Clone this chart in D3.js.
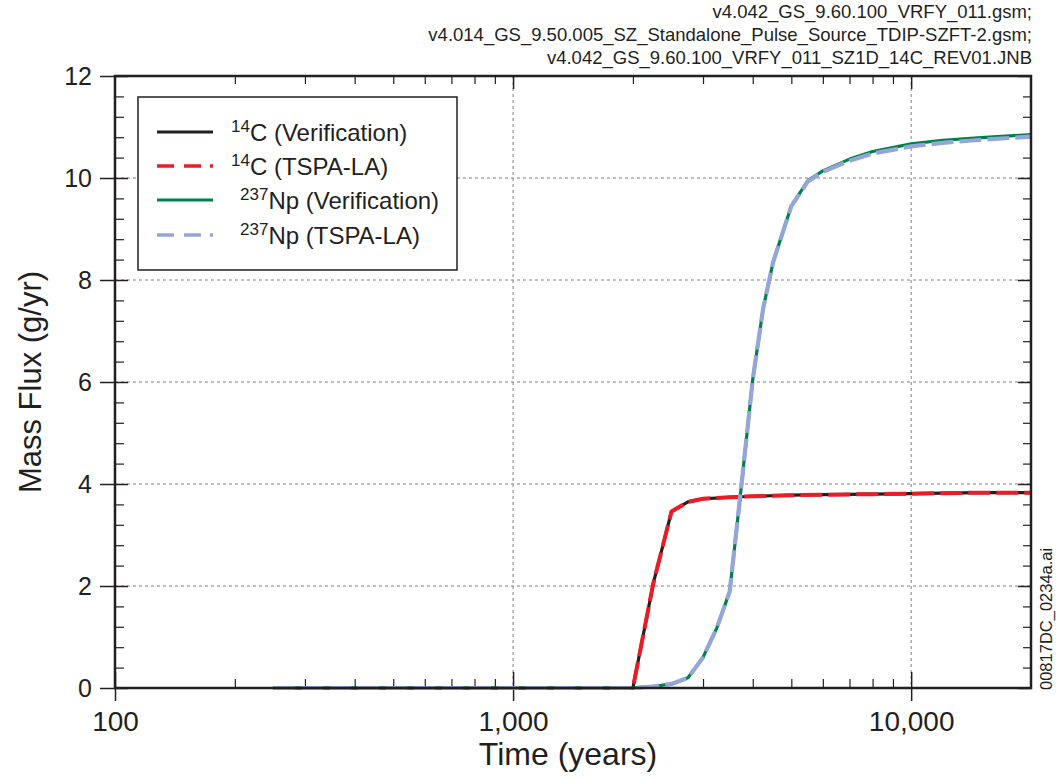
<!DOCTYPE html>
<html><head><meta charset="utf-8">
<script src="https://cdn.jsdelivr.net/npm/d3@7"></script>
<style>
body{margin:0;background:#fff;}
text{font-family:"Liberation Sans",Arial,Helvetica,sans-serif;fill:#231f20;}
</style></head>
<body>
<svg id="chart" width="1058" height="780"></svg>
<script>
// ---- data ----
const c14Time = [250, 2000, 2250, 2500, 2750, 3000, 3500, 4000, 5000, 6000, 8000, 10000, 12000, 15000, 20000];
const c14Verification = [0, 0, 2.05, 3.46, 3.65, 3.71, 3.74, 3.76, 3.78, 3.79, 3.80, 3.81, 3.82, 3.83, 3.83];
const c14TSPA = [0, 0, 2.05, 3.46, 3.65, 3.71, 3.74, 3.76, 3.78, 3.79, 3.80, 3.81, 3.82, 3.83, 3.83];
const npTime = [250, 2000, 2250, 2500, 2750, 3000, 3250, 3500, 3750, 4000, 4250, 4500, 5000, 5500, 6000, 7000, 8000, 10000, 12000, 15000, 20000];
const npVerification = [0, 0, 0.03, 0.08, 0.2, 0.6, 1.18, 1.89, 4.0, 6.05, 7.45, 8.35, 9.45, 9.95, 10.14, 10.37, 10.52, 10.67, 10.74, 10.79, 10.85];
const npTSPA = [0, 0, 0.03, 0.08, 0.2, 0.6, 1.18, 1.89, 4.0, 6.05, 7.45, 8.35, 9.45, 9.93, 10.12, 10.34, 10.48, 10.62, 10.69, 10.75, 10.81];
const xMajorTicks = [100, 1000, 10000];
const xMinorTicks = [200, 300, 400, 500, 600, 700, 800, 900, 2000, 3000, 4000, 5000, 6000, 7000, 8000, 9000];
const yMajorTicks = [0, 2, 4, 6, 8, 10, 12];
const yMinorTicks = [0.4,0.8,1.2,1.6,2.4,2.8,3.2,3.6,4.4,4.8,5.2,5.6,6.4,6.8,7.2,7.6,8.4,8.8,9.2,9.6,10.4,10.8,11.2,11.6];
const fileLines = ["v4.042_GS_9.60.100_VRFY_011.gsm;",
  "v4.014_GS_9.50.005_SZ_Standalone_Pulse_Source_TDIP-SZFT-2.gsm;",
  "v4.042_GS_9.60.100_VRFY_011_SZ1D_14C_REV01.JNB"];
const legendItems = [
  {sup:"14", main:"C (Verification)", color:"#231f20", dash:null, w:3.2},
  {sup:"14", main:"C (TSPA-LA)", color:"#ed1c24", dash:"17,10,17,9,3", w:3.6},
  {sup:"237", main:"Np (Verification)", color:"#00804a", dash:null, w:3.2},
  {sup:"237", main:"Np (TSPA-LA)", color:"#94a6d9", dash:"17,10,17,9,3", w:3.6}
];

// ---- layout ----
const svg = d3.select("#chart");
const L = 115, R = 1031, T = 76, B = 688;
const x = d3.scaleLog().domain([100, 20000]).range([L, R]);
const y = d3.scaleLinear().domain([0, 12]).range([B, T]);

// grid
const grid = svg.append("g").attr("stroke", "#808080").attr("stroke-width", 1).attr("stroke-dasharray", "3,3");
[2,4,6,8,10].forEach(v => grid.append("line").attr("x1", L).attr("x2", R).attr("y1", y(v)).attr("y2", y(v)));
[1000, 10000].forEach(v => grid.append("line").attr("x1", x(v)).attr("x2", x(v)).attr("y1", T).attr("y2", B));

// axes with d3 axis generators
const fmt = d3.format(",");
const bottomMajor = svg.append("g").attr("transform", `translate(0,${B})`)
  .call(d3.axisBottom(x).tickValues(xMajorTicks).tickFormat(fmt).tickSizeInner(13).tickSizeOuter(0).tickPadding(10));
bottomMajor.select(".domain").remove();
bottomMajor.selectAll(".tick line").attr("stroke", "#231f20").attr("stroke-width", 1.5).attr("y1", -16);
bottomMajor.selectAll(".tick text").attr("font-size", 28).attr("fill", "#231f20").attr("dy", "0.71em");

const bottomMinor = svg.append("g").attr("transform", `translate(0,${B})`)
  .call(d3.axisTop(x).tickValues(xMinorTicks).tickFormat("").tickSizeInner(9).tickSizeOuter(0));
bottomMinor.select(".domain").remove();
bottomMinor.selectAll(".tick line").attr("stroke", "#231f20").attr("stroke-width", 1.2);

const topMinor = svg.append("g").attr("transform", `translate(0,${T})`)
  .call(d3.axisBottom(x).tickValues(xMinorTicks).tickFormat("").tickSizeInner(8).tickSizeOuter(0));
topMinor.select(".domain").remove();
topMinor.selectAll(".tick line").attr("stroke", "#231f20").attr("stroke-width", 1.2);
const topMajor = svg.append("g").attr("transform", `translate(0,${T})`)
  .call(d3.axisBottom(x).tickValues([1000, 10000]).tickFormat("").tickSizeInner(13).tickSizeOuter(0));
topMajor.select(".domain").remove();
topMajor.selectAll(".tick line").attr("stroke", "#231f20").attr("stroke-width", 1.5);

const leftMajor = svg.append("g").attr("transform", `translate(${L},0)`)
  .call(d3.axisLeft(y).tickValues(yMajorTicks).tickSizeInner(15).tickSizeOuter(0).tickPadding(6));
leftMajor.select(".domain").remove();
leftMajor.selectAll(".tick line").attr("stroke", "#231f20").attr("stroke-width", 1.5).attr("x2", 13).attr("x1", -15);
leftMajor.selectAll(".tick text").attr("font-size", 25).attr("fill", "#231f20").attr("x", -23);
const leftMinor = svg.append("g").attr("transform", `translate(${L},0)`)
  .call(d3.axisRight(y).tickValues(yMinorTicks).tickFormat("").tickSizeInner(9).tickSizeOuter(0));
leftMinor.select(".domain").remove();
leftMinor.selectAll(".tick line").attr("stroke", "#231f20").attr("stroke-width", 1.2);

const rightMajor = svg.append("g").attr("transform", `translate(${R},0)`)
  .call(d3.axisLeft(y).tickValues(yMajorTicks).tickFormat("").tickSizeInner(13).tickSizeOuter(0));
rightMajor.select(".domain").remove();
rightMajor.selectAll(".tick line").attr("stroke", "#231f20").attr("stroke-width", 1.5);
const rightMinor = svg.append("g").attr("transform", `translate(${R},0)`)
  .call(d3.axisLeft(y).tickValues(yMinorTicks).tickFormat("").tickSizeInner(8).tickSizeOuter(0));
rightMinor.select(".domain").remove();
rightMinor.selectAll(".tick line").attr("stroke", "#231f20").attr("stroke-width", 1.2);

// curves
const line = d3.line().x(d => x(d[0])).y(d => y(d[1]));
function series(times, vals){ return times.map((t,i)=>[t, vals[i]]); }
const plot = svg.append("g").attr("fill", "none").attr("stroke-linejoin", "round");
plot.append("path").datum(series(c14Time, c14Verification)).attr("d", line).attr("stroke", "#231f20").attr("stroke-width", 3.2);
plot.append("path").datum(series(c14Time, c14TSPA)).attr("d", line).attr("stroke", "#ed1c24").attr("stroke-width", 4).attr("stroke-dasharray", "22,6");
plot.append("path").datum(series(npTime, npVerification)).attr("d", line).attr("stroke", "#00804a").attr("stroke-width", 3.2);
plot.append("path").datum(series(npTime, npTSPA)).attr("d", line).attr("stroke", "#94a6d9").attr("stroke-width", 4.2).attr("stroke-dasharray", "22,6");

// frame
svg.append("rect").attr("x", L).attr("y", T).attr("width", R - L).attr("height", B - T)
  .attr("fill", "none").attr("stroke", "#231f20").attr("stroke-width", 2.5);

// legend
const lg = svg.append("g");
lg.append("rect").attr("x", 138).attr("y", 97).attr("width", 319).attr("height", 173)
  .attr("fill", "#fff").attr("stroke", "#231f20").attr("stroke-width", 1.5);
const rowY = [132, 166, 200, 235];
legendItems.forEach((it, i) => {
  const ly = rowY[i];
  const ln = lg.append("line").attr("x1", 157).attr("x2", 213).attr("y1", ly).attr("y2", ly)
    .attr("stroke", it.color).attr("stroke-width", it.w);
  if (it.dash) ln.attr("stroke-dasharray", it.dash);
  const tx = lg.append("text").attr("x", i < 2 ? 231 : 240).attr("y", ly + 9).attr("font-size", 24);
  tx.append("tspan").text(it.sup).attr("font-size", 17).attr("dy", -9);
  tx.append("tspan").text(it.main).attr("dy", 9);
});

// titles
svg.append("text").attr("x", 568).attr("y", 765).attr("text-anchor", "middle").attr("font-size", 32).text("Time (years)");
svg.append("text").attr("transform", `translate(41,382) rotate(-90)`).attr("text-anchor", "middle").attr("font-size", 31)
  .text("Mass Flux (g/yr)");

// file annotation
fileLines.forEach((s, i) => {
  svg.append("text").attr("x", 1032).attr("y", 18 + i * 23).attr("text-anchor", "end").attr("font-size", 18.5).text(s);
});
svg.append("text").attr("transform", "translate(1052,690) rotate(-90)").attr("font-size", 16.5).text("00817DC_0234a.ai");
</script>
</body></html>
